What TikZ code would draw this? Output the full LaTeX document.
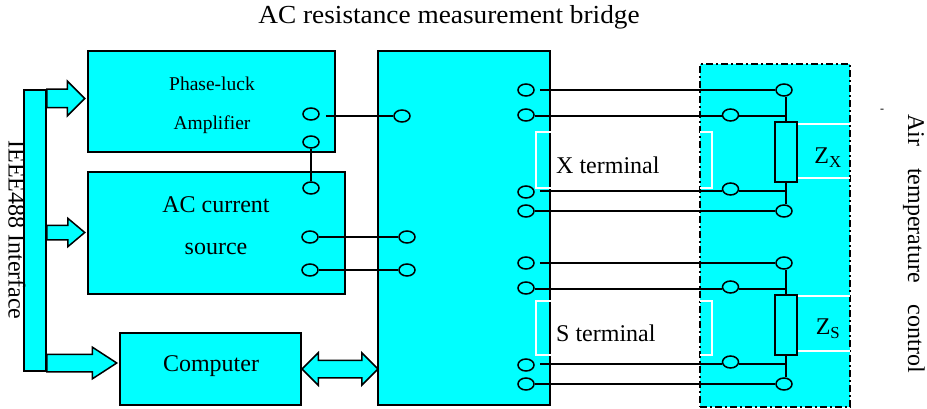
\documentclass[tikz,border=0pt]{standalone}
\usepackage{fontspec}
\setmainfont{Liberation Serif}
\usetikzlibrary{shapes.geometric, shapes.arrows}

\definecolor{boxcyan}{RGB}{0,255,255}

\tikzset{
    unit/.style={draw, line width=1.5pt, fill=boxcyan, inner sep=0pt},
    port/.style={ellipse, draw, line width=1.5pt, fill=boxcyan, minimum width=16pt, minimum height=12pt, inner sep=0pt},
    wire/.style={line width=1.5pt},
    gapwire/.style={line width=1.5pt, shorten <=5pt},
    whiteline/.style={white, line width=1.2pt},
    busarrow/.style={single arrow, draw, line width=1.5pt, fill=boxcyan, anchor=tail, inner sep=0pt, single arrow head indent=0pt},
    txt/.style={inner sep=0pt, font=\fontsize{24}{24}\selectfont}
}

\begin{document}
\begin{tikzpicture}[x=1pt, y=-1pt]
    \useasboundingbox (0,0) rectangle (927,409);

    \node[unit, minimum width=150pt, minimum height=343pt, dash pattern=on 7pt off 3pt on 2pt off 3pt] (chamber) at (775,235.5) {};
    \node[unit, minimum width=247pt, minimum height=101pt] (lockin) at (211.5,101.5) {};
    \node[unit, minimum width=257pt, minimum height=122pt] (source) at (216.5,233) {};
    \node[unit, minimum width=181pt, minimum height=72pt] (computer) at (210.5,369) {};
    \node[unit, minimum width=172pt, minimum height=354pt] (bridge) at (464,228) {};
    \node[unit, minimum width=22pt, minimum height=281pt] (bus) at (35,230.5) {};

    \node[busarrow, minimum height=38pt, single arrow tip angle=90, single arrow head extend=8pt, inner ysep=8.5pt] (arrowa) at (46,98.5) {};
    \node[busarrow, minimum height=38pt, single arrow tip angle=80, single arrow head extend=7pt, inner ysep=6.5pt] (arrowb) at (46,232.5) {};
    \node[busarrow, minimum height=70pt, single arrow tip angle=66, single arrow head extend=7pt, inner ysep=8pt] (arrowc) at (46,363) {};
    \node[double arrow, draw, line width=1.5pt, fill=boxcyan, inner sep=0pt, inner ysep=8pt, minimum height=76pt, double arrow tip angle=90, double arrow head extend=7.5pt, double arrow head indent=0pt] (arrowd) at (340,369) {};

    \draw[whiteline] (552,132) -- (536,132) -- (536,188) -- (552,188);
    \draw[whiteline] (700,132) -- (712,132) -- (712,188) -- (700,188);
    \draw[whiteline] (552,301) -- (536,301) -- (536,355) -- (552,355);
    \draw[whiteline] (700,301) -- (712,301) -- (712,355) -- (700,355);

    \node[unit, minimum width=22pt, minimum height=60pt] (zx) at (786,152) {};
    \node[unit, minimum width=22pt, minimum height=60pt] (zs) at (786,325) {};
    \draw[whiteline] (zx.east |- 0,124) -- (850,124);
    \draw[whiteline] (zx.east |- 0,178) -- (850,178);
    \draw[whiteline] (zs.east |- 0,296) -- (850,296);
    \draw[whiteline] (zs.east |- 0,351) -- (850,351);

    \node[port] (lockout) at (311,114) {};
    \node[port] (lockref) at (311,142) {};
    \node[port] (srcref) at (311,188) {};
    \node[port] (srca) at (310,237) {};
    \node[port] (srcb) at (310,270) {};
    \node[port] (bridgelock) at (402,116) {};
    \node[port] (bridgea) at (407,237) {};
    \node[port] (bridgeb) at (407,270) {};

    \node[port] (xa) at (526,90) {};
    \node[port] (xb) at (526,115) {};
    \node[port] (xc) at (526,192) {};
    \node[port] (xd) at (526,211) {};
    \node[port] (sa) at (526,263) {};
    \node[port] (sb) at (526,288) {};
    \node[port] (sc) at (526,365) {};
    \node[port] (sd) at (526,384) {};
    \node[port] (xtop) at (784,90) {};
    \node[port] (xin) at (730.5,115) {};
    \node[port] (xout) at (730.5,189) {};
    \node[port] (xbot) at (784,211) {};
    \node[port] (stop) at (784,263) {};
    \node[port] (sin) at (730.5,287) {};
    \node[port] (sout) at (730.5,362) {};
    \node[port] (sbot) at (784,384) {};

    \draw[gapwire, shorten <=6pt] (lockout.east |- bridgelock.west) -- (bridgelock.west);
    \draw[wire] (lockref.south) -- (srcref.north);
    \draw[wire]
        (srca) -- (bridgea)
        (srcb) -- (bridgeb)
        ;

    \draw[gapwire] (xa.east) -- (xtop.west);
    \draw[wire] (xb.east |- 0,116) -- (xin.west |- 0,116);
    \draw[wire] (xin.east |- 0,116) -- (zx.north |- 0,116);
    \draw[gapwire] (xc.east |- 0,191) -- (xout.west |- 0,191);
    \draw[wire] (xout.east |- 0,191) -- (zx.south |- 0,191);
    \draw[wire] (xd.east) -- (xbot.west);
    \draw[wire] (zx.north |- xtop.south) -- (zx.north);
    \draw[wire] (zx.south) -- (zx.south |- xbot.north);

    \draw[gapwire] (sa.east) -- (stop.west);
    \draw[wire] (sb.east |- 0,289) -- (sin.west |- 0,289);
    \draw[wire] (sin.east |- 0,289) -- (zs.north |- 0,289);
    \draw[gapwire] (sc.east |- 0,364) -- (sout.west |- 0,364);
    \draw[wire] (sout.east |- 0,364) -- (zs.south |- 0,364);
    \draw[wire] (sd.east) -- (sbot.west);
    \draw[wire] (zs.north |- stop.south) -- (zs.north);
    \draw[wire] (zs.south) -- (zs.south |- sbot.north);

    \node[txt, font=\fontsize{26}{26}\selectfont, xscale=1.05] (title) at (449,17) {AC resistance measurement bridge};
    \node[txt, font=\fontsize{19.5}{19.5}\selectfont] (locka) at (212,84) {Phase-luck};
    \node[txt, font=\fontsize{19.5}{19.5}\selectfont] (lockb) at (212,125) {Amplifier};
    \node[txt] (srctexta) at (216,205) {AC current};
    \node[txt] (srctextb) at (216,248.5) {source};
    \node[txt] (comptext) at (211,366) {Computer};
    \node[txt, rotate=-90] (ieee) at (17,230) {IEEE488 Interface};
    \node[txt, anchor=west] (xterm) at (556,165) {X terminal};
    \node[txt, anchor=west] (sterm) at (556,333) {S terminal};
    \node[txt] (zxtext) at (828,158) {Z\textsubscript{X}};
    \node[txt] (zstext) at (828,329) {Z\textsubscript{S}};
    \node[inner sep=0pt, font=\fontsize{12}{12}\selectfont] (dash) at (882,111) {-};
    \node[txt, rotate=-90] (airtext) at (914,243.5) {Air\hspace{22pt}temperature\hspace{22pt}control};
\end{tikzpicture}
\end{document}
